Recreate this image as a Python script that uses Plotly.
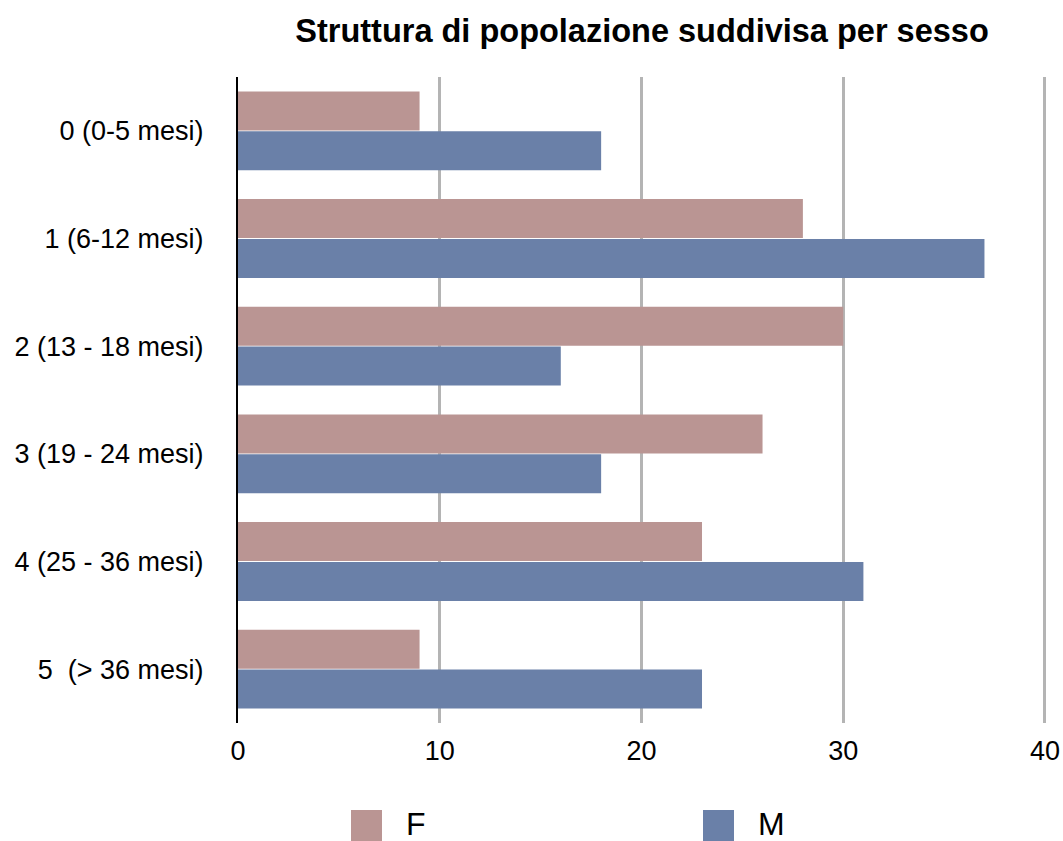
import plotly.graph_objects as go

categories = ["0 (0-5 mesi)", "1 (6-12 mesi)", "2 (13 - 18 mesi)", "3 (19 - 24 mesi)",
              "4 (25 - 36 mesi)", "5  (> 36 mesi)"]
female = [9, 28, 30, 26, 23, 9]
male = [18, 37, 16, 18, 31, 23]
series_names = ["F", "M"]
colors = ["#BA9593", "#6A80A8"]
x_ticks = [0, 10, 20, 30, 40]

FONT = "Liberation Sans, Arial, Helvetica, sans-serif"

fig = go.Figure()
for name, vals, col in zip(series_names, [female, male], colors):
    fig.add_trace(go.Bar(y=categories, x=vals, name=name, orientation="h",
                         marker=dict(color=col, line=dict(width=0)),
                         showlegend=False))

W, H = 1063, 841
L, R, T, B = 238, 16, 77, 118
pw, ph = W - L - R, H - T - B

def px(x):
    return (x - L) / pw

def py(y):
    return (H - B - y) / ph

# custom legend (large square swatches as in the reference)
legend_pos = [(351, 404), (703, 756)]
for (sx, tx), name, col in zip(legend_pos, series_names, colors):
    fig.add_shape(type="rect", xref="paper", yref="paper",
                  x0=px(sx), x1=px(sx + 31), y0=py(841), y1=py(810),
                  fillcolor=col, line=dict(width=0))
    fig.add_annotation(xref="paper", yref="paper", x=px(tx), y=py(824),
                       text=name, showarrow=False, xanchor="left", yanchor="middle",
                       font=dict(family=FONT, size=32, color="#000000"))

fig.update_layout(
    width=W, height=H,
    margin=dict(l=L, r=R, t=T, b=B, autoexpand=False),
    paper_bgcolor="white", plot_bgcolor="white",
    barmode="group", bargap=0.26, bargroupgap=0.02,
    title=dict(text="<b>Struttura di popolazione suddivisa per sesso</b>",
               x=642 / W, xanchor="center", y=1 - 31 / H, yanchor="middle",
               yref="container", xref="container",
               font=dict(family=FONT, size=32.5, color="#000000")),
    font=dict(family=FONT, size=27, color="#000000"),
    showlegend=False,
)
fig.update_xaxes(range=[0, 40.1], tickvals=x_ticks, showgrid=True, automargin=False,
                 gridcolor="#B4B4B4", gridwidth=2.5, zeroline=False,
                 showline=False, ticks="", ticklabelstandoff=9,
                 tickfont=dict(family=FONT, size=27, color="#000000"))
fig.update_yaxes(autorange="reversed", showgrid=False, zeroline=False, automargin=False,
                 showline=True, linecolor="#000000", linewidth=2,
                 ticks="", ticklabelstandoff=27,
                 tickfont=dict(family=FONT, size=27, color="#000000"))

fig.write_html("out.html", config={"displayModeBar": False},
               post_script="document.body.style.margin='0';document.body.style.overflow='hidden';")
